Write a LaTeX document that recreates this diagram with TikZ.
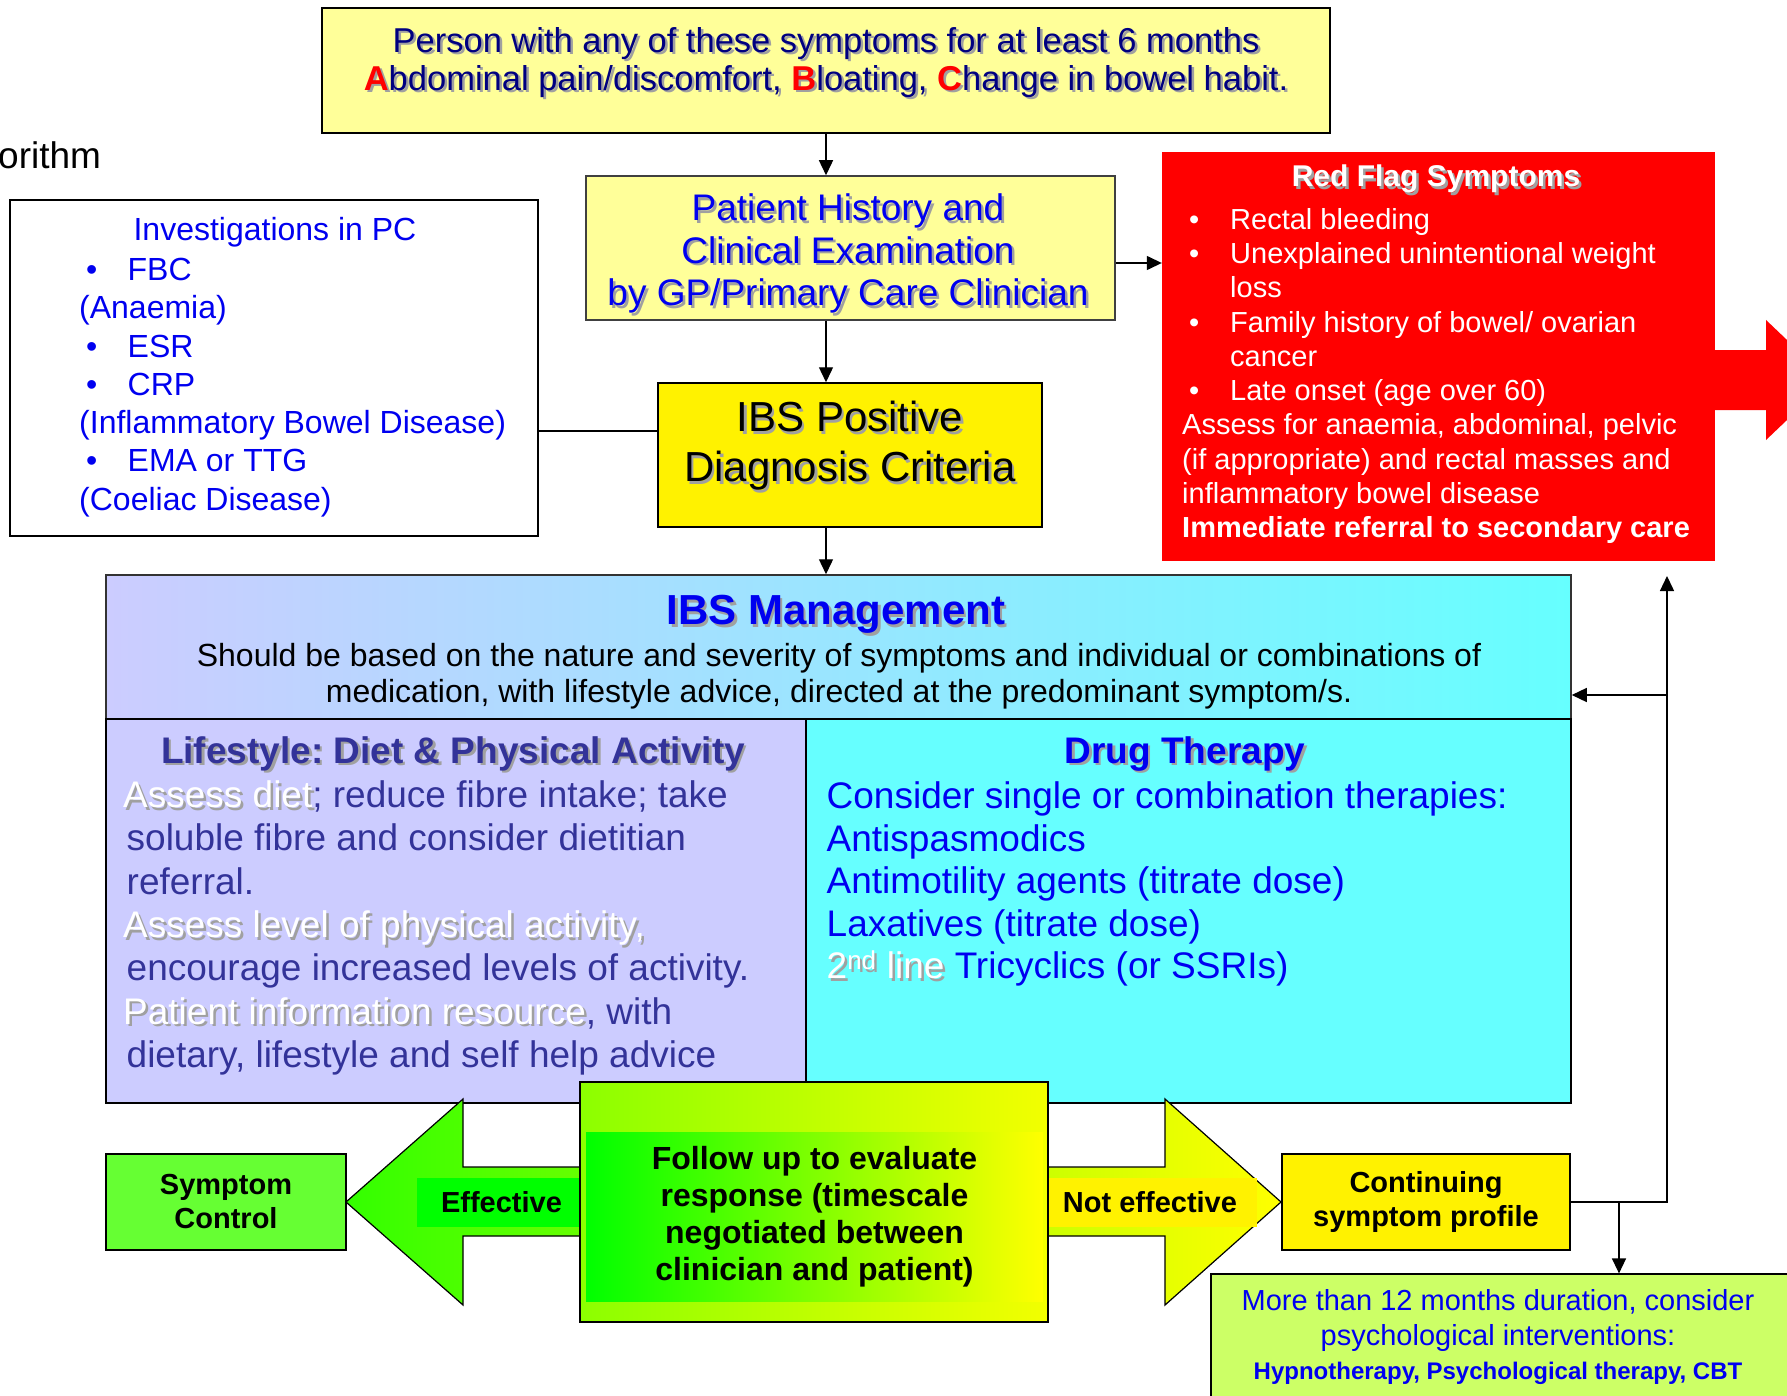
\documentclass[tikz,border=0pt]{standalone}
\usepackage{fontspec}
\setmainfont{Liberation Sans}
\usetikzlibrary{arrows.meta, positioning}
\definecolor{paleyel}{RGB}{255,255,153}
\definecolor{lavbox}{RGB}{204,204,255}
\definecolor{cyanbox}{RGB}{102,255,255}
\definecolor{navytxt}{RGB}{0,0,128}
\definecolor{blutxt}{RGB}{0,0,240}
\definecolor{slatetxt}{RGB}{51,51,153}
\definecolor{shadowgray}{RGB}{160,160,160}
\definecolor{ctrlgreen}{RGB}{102,255,51}
\definecolor{moregreen}{RGB}{204,255,102}
\definecolor{limegr}{RGB}{140,255,0}
\definecolor{puregreen}{RGB}{0,255,0}
\definecolor{arrgreen}{RGB}{51,255,0}
\frenchspacing
\newcommand{\fs}[2]{\fontsize{#1}{#2}\selectfont}
\newcommand{\shtxt}[2]{\makebox[0pt][l]{\hspace{2.5pt}\raisebox{-2.5pt}{\color{shadowgray}#2}}{\color{#1}#2}}
\newcommand{\ibul}{\makebox[48.5pt][l]{\hspace{7pt}\textbullet}}
\newcommand{\rbul}{\makebox[48pt][l]{\hspace{7pt}\textbullet}}

\begin{document}
\begin{tikzpicture}[x=1pt, y=-1pt,
    box/.style={draw, line width=1.5pt, inner sep=0pt},
    arr/.style={-{Triangle[length=15pt,width=14pt]}, line width=1.4pt},
    txt/.style={inner sep=0pt, align=center}]
\useasboundingbox (0,0) rectangle (1787,1396);
\clip (0,0) rectangle (1787,1396);

% title, cut at the edge
\node[txt, anchor=west, font=\fs{37}{40}] (ttl) at (-2,155) {orithm};

% symptoms
\node[box, fill=paleyel, minimum width=1008, minimum height=125] (sympt) at (826,70.5) {};
\node[txt, font=\fs{34.5}{38}] (symtxt) at (826,63.5)
    {\shtxt{navytxt}{Person with any of these symptoms for at least 6 months}\\
     \shtxt{red}{\textbf{A}}\shtxt{navytxt}{bdominal pain/discomfort, }\shtxt{red}{\textbf{B}}\shtxt{navytxt}{loating, }\shtxt{red}{\textbf{C}}\shtxt{navytxt}{hange in bowel habit.}};

% history and diagnosis
\node[box, draw=darkgray, fill=paleyel, minimum width=529, minimum height=144] (hist) at (850.5,248) {};
\node[txt, font=\fs{37}{42.5}] (histtxt) at (848,255)
    {\shtxt{blutxt}{Patient History and}\\ \shtxt{blutxt}{Clinical Examination}\\ \shtxt{blutxt}{by GP/Primary Care Clinician}};
\node[box, fill=yellow, minimum width=384, minimum height=144] (diag) at (850,455) {};
\node[txt, font=\fs{42}{50}] (diagtxt) at (850,447)
    {\shtxt{black}{IBS Positive}\\ \shtxt{black}{Diagnosis Criteria}};

% investigations
\node[box, fill=white, minimum width=528, minimum height=336] (invest) at (274,368) {};
\node[txt, font=\fs{32}{38}, text=blutxt] (invtitle) at (275,232.5) {Investigations in PC};
\node[inner sep=0pt, align=left, anchor=west, font=\fs{32}{38.3}, text=blutxt] (invlist) at (79,387.5)
    {\ibul FBC\\ (Anaemia)\\ \ibul ESR\\ \ibul CRP\\ (Inflammatory Bowel Disease)\\ \ibul EMA or TTG\\ (Coeliac Disease)};

% red flags
\node[fill=red, minimum width=553, minimum height=409, inner sep=0pt] (redflag) at (1438.5,356.5) {};
\fill[red] (redflag.east |- 0,350) -- (1766,350) -- (1766,320) -- (1829,380) -- (1766,440)
    -- (1766,410) -- (redflag.east |- 0,410) -- cycle;
\node[txt, font=\bfseries\fs{30}{34}] (rftitle) at (1436,180.5) {\shtxt{white}{Red Flag Symptoms}};
\node[inner sep=0pt, align=left, anchor=west, font=\fs{29}{34.3}, text=white] (rflist) at (1182,376)
    {\rbul Rectal bleeding\\ \rbul Unexplained unintentional weight\\ \hspace*{48pt}loss\\
     \rbul Family history of bowel/ ovarian\\ \hspace*{48pt}cancer\\ \rbul Late onset (age over 60)\\
     Assess for anaemia, abdominal, pelvic\\ (if appropriate) and rectal masses and\\
     inflammatory bowel disease\\ \textbf{Immediate referral to secondary care}};

% management
\node[box, draw=black!80, left color=lavbox, right color=cyanbox, minimum width=1465,
      minimum height=144] (mgmt) at (838.5,647) {};
\node[txt, font=\bfseries\fs{42}{46}] (mgmttitle) at (836,616) {\shtxt{blutxt}{IBS Management}};
\node[txt, font=\fs{32}{35.5}] (mgmttxt) at (839,676)
    {Should be based on the nature and severity of symptoms and individual or combinations of\\
     medication, with lifestyle advice, directed at the predominant symptom/s.};

\node[box, fill=lavbox, minimum width=700, minimum height=384] (life) at (456,911) {};
\node[txt, font=\bfseries\fs{37}{42}] (lifehead) at (453,755) {\shtxt{slatetxt}{Lifestyle: Diet \& Physical Activity}};
\node[inner sep=0pt, align=left, anchor=west, font=\fs{37}{43.3}, text=slatetxt] (lifetxt) at (123,928)
    {\shtxt{white}{Assess diet}; reduce fibre intake; take\\
     \hspace*{3.5pt}soluble fibre and consider dietitian\\
     \hspace*{3.5pt}referral.\\
     \shtxt{white}{Assess level of physical activity,}\\
     \hspace*{3.5pt}encourage increased levels of activity.\\
     \shtxt{white}{Patient information resource}, with\\
     \hspace*{3.5pt}dietary, lifestyle and self help advice};

\node[box, fill=cyanbox, minimum width=765, minimum height=384] (drug) at (1188.5,911) {};
\node[txt, font=\bfseries\fs{37}{42}] (drughead) at (1185,755) {\shtxt{blutxt}{Drug Therapy}};
\node[inner sep=0pt, align=left, anchor=west, font=\fs{37}{42.5}, text=blutxt] (drugtxt) at (826.5,884)
    {Consider single or combination therapies:\\ Antispasmodics\\ Antimotility agents (titrate dose)\\
     Laxatives (titrate dose)\\ \shtxt{white}{2\textsuperscript{nd} line} Tricyclics (or SSRIs)};

% follow up and outcomes
\draw[line width=1.2pt, left color=arrgreen, right color=yellow]
    (346,1202) -- (463,1099) -- (463,1167) -- (1165,1167) -- (1165,1099) -- (1281,1202)
    -- (1165,1305) -- (1165,1236) -- (463,1236) -- (463,1305) -- cycle;
\node[fill=puregreen, minimum width=169, minimum height=49, inner sep=0pt,
      font=\bfseries\fs{29}{34}] (eff) at (501.5,1202.5) {Effective};
\node[fill=yellow, minimum width=213, minimum height=49, inner sep=0pt,
      font=\bfseries\fs{29}{34}] (noteff) at (1150,1202.5) {Not effective};
\node[box, left color=limegr, right color=yellow!95!green, minimum width=468, minimum height=240] (follow) at (814,1202) {};
\node[left color=puregreen, right color=yellow, minimum width=457, minimum height=169, inner sep=0pt,
      txt, font=\bfseries\fs{32}{37}] (followtxt) at (814.5,1216.5)
    {Follow up to evaluate\\ response (timescale\\ negotiated between\\ clinician and patient)};

\node[box, fill=ctrlgreen, minimum width=240, minimum height=96, txt,
      font=\bfseries\fs{29}{34}] (ctrl) at (226,1202) {Symptom\\ Control};
\node[box, fill=yellow, minimum width=288, minimum height=96, txt,
      font=\bfseries\fs{29}{34}] (cont) at (1426,1202) {Continuing\\ symptom profile};

\node[box, line width=1.2pt, fill=moregreen, minimum width=589, minimum height=136] (more) at (1505.5,1342) {};
\node[txt, font=\fs{29}{34.5}, text=blutxt] (moretxt) at (1498,1337.5)
    {More than 12 months duration, consider\\ psychological interventions:\\
     {\bfseries\fs{24}{30}Hypnotherapy, Psychological therapy, CBT}};

% connectors
\draw[arr] (sympt.south) -- (sympt.south |- hist.north);
\draw[arr] (sympt.south |- hist.south) -- (sympt.south |- diag.north);
\draw[arr] (sympt.south |- diag.south) -- (sympt.south |- mgmt.north);
\draw[arr] ([yshift=-15pt]hist.east) -- ([yshift=-15pt]hist.east -| redflag.west);
\draw[line width=1.4pt] ([yshift=-63pt]invest.east) -- ([yshift=-63pt]invest.east -| diag.west);

\coordinate (split) at (1619,1202);
\coordinate (up) at (1667,576);
\coordinate (back) at (1667,695);
\draw[arr] (cont.east) -| (up);
\draw[arr] (back) -- (back -| mgmt.east);
\draw[arr] (split) -- (split |- more.north);
\end{tikzpicture}
\end{document}
